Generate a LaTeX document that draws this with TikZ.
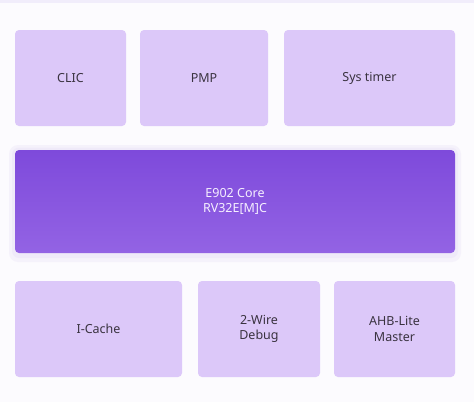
\documentclass[tikz,border=0pt]{standalone}
\usepackage{fontspec}
\setmainfont{Noto Sans}
\usetikzlibrary{positioning}
\definecolor{bg}{HTML}{FCFBFE}
\definecolor{topband}{HTML}{F1EDFB}
\definecolor{boxfill}{HTML}{DCC8F9}
\definecolor{boxtext}{HTML}{3A3340}
\definecolor{coretop}{HTML}{7E4ADB}
\definecolor{corebot}{HTML}{9363E4}
\definecolor{coretext}{HTML}{F6F0FF}
\definecolor{glow}{HTML}{E4DAF6}
\tikzset{
  x=1pt, y=-1pt,
  blockbox/.style={fill=boxfill, rounded corners=4pt, draw=none, text=boxtext,
    font=\fontsize{12.5}{15.5}\selectfont, align=center, inner sep=0pt},
  corebox/.style={top color=coretop, bottom color=corebot, rounded corners=4pt, draw=none,
    text=coretext, font=\fontsize{12.5}{15.5}\selectfont, align=center, inner sep=0pt},
}
\begin{document}
\begin{tikzpicture}
\useasboundingbox (0,0) rectangle (474,402);
\fill[bg] (0,0) rectangle (474,402);
\fill[topband] (0,0) rectangle (474,3);
% top row
\node[blockbox, minimum width=111pt, minimum height=96pt] (clic) at (70.5,78) {CLIC};
\node[blockbox, minimum width=128pt, minimum height=96pt] (pmp) at (204,78) {PMP};
\node[blockbox, minimum width=171pt, minimum height=96pt] (sys) at (369.5,78) {Sys timer};
% core glow
\fill[glow, opacity=0.25, rounded corners=9pt] (9,145) rectangle (461,262);
\fill[glow, opacity=0.3, rounded corners=7pt] (12,147.5) rectangle (458,258);
\node[corebox, minimum width=440pt, minimum height=103pt] (core) at (235,201.5) {E902 Core\\RV32E[M]C};
% bottom row
\node[blockbox, minimum width=167pt, minimum height=96pt] (icache) at (98.5,329) {I-Cache};
\node[blockbox, minimum width=122pt, minimum height=96pt] (debug) at (259,329) {2-Wire\\Debug};
\node[blockbox, minimum width=121pt, minimum height=96pt] (ahb) at (394.5,329) {AHB-Lite\\Master};
\end{tikzpicture}
\end{document}
